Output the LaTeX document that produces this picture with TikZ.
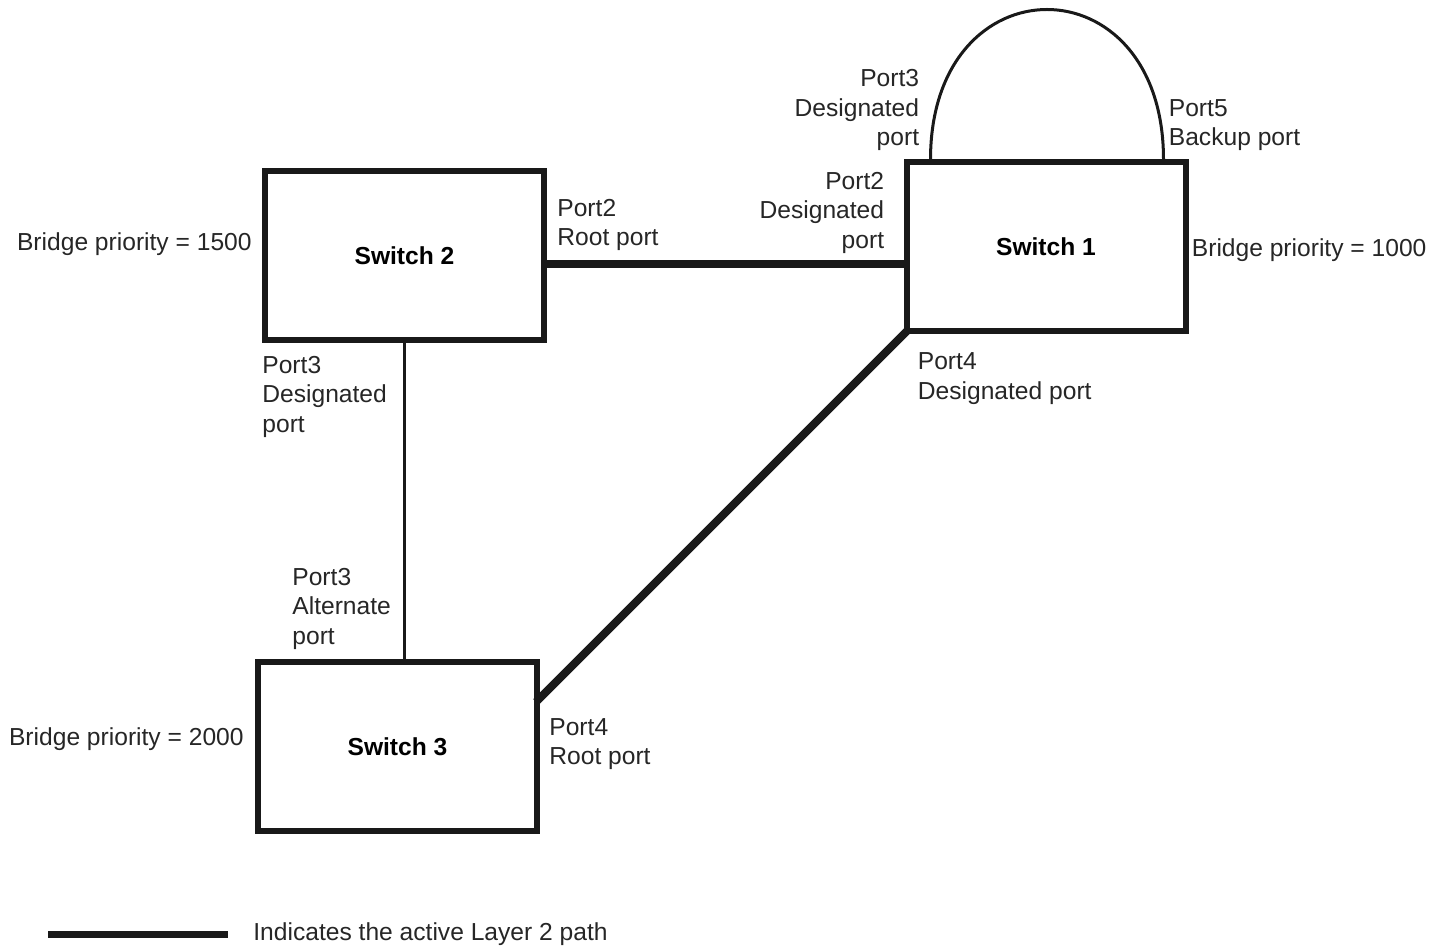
\documentclass[tikz,border=0pt]{standalone}
\usepackage{fontspec}
\setmainfont{Liberation Sans}
\usetikzlibrary{positioning}
\tikzset{
  sw/.style={rectangle, draw=black!90, line width=3pt, fill=white, minimum width=139.5pt,
             minimum height=84.5pt, font=\fontsize{12.3}{14.75}\selectfont\bfseries},
  lbl/.style={inner sep=0pt, align=left, font=\fontsize{12.3}{14.75}\selectfont, text=black!85},
  lblr/.style={lbl, align=right},
  act/.style={line width=4pt, draw=black!90},
  lnk/.style={line width=1.5pt, draw=black!90},
}
\begin{document}
\begin{tikzpicture}[x=0.5pt, y=0.5pt]
\useasboundingbox (0,0) rectangle (1446,948);
\node[sw] (s2) at (404.5,692) {Switch 2};
\node[sw] (s1) at (1046,701) {Switch 1};
\node[sw] (s3) at (397.5,201.5) {Switch 3};
\coordinate (p3) at ([shift={(27,0)}]s1.north west);
\coordinate (p5) at ([shift={(-25,0)}]s1.north east);
\coordinate (s1p4pt) at ([shift={(5,5)}]s1.south west);
\coordinate (s3p4pt) at ([shift={(-4,-43)}]s3.north east);
\draw[act] (s2.east |- 0,684) -- (s1.west |- 0,684);
\draw[act] (s1p4pt) -- (s3p4pt);
\draw[lnk] (s2.south) -- (s2.south |- s3.north);
\draw[lnk] (p3) .. controls +(0,200) and +(0,200) .. (p5);
\node[lbl, anchor=east] (bp2) at ([shift={(-10,12)}]s2.west) {Bridge priority = 1500};
\node[lbl, anchor=west] (bp1) at ([shift={(3,-3)}]s1.east) {Bridge priority = 1000};
\node[lbl, anchor=east] (bp3) at ([shift={(-11,7.5)}]s3.west) {Bridge priority = 2000};
\node[lbl, anchor=north west] (s2p2) at ([shift={(10,-30)}]s2.north east) {Port2\\Root port};
\node[lblr, anchor=north east] (s1p2) at ([shift={(-19,-12)}]s1.north west) {Port2\\Designated\\port};
\node[lblr, anchor=south east] (s1p3) at ([shift={(-11,8)}]p3) {Port3\\Designated\\port};
\node[lbl, anchor=south west] (s1p5) at ([shift={(5,8)}]p5) {Port5\\Backup port};
\node[lbl, anchor=north west] (s1p4) at ([shift={(14,-18)}]s1.south west) {Port4\\Designated port};
\node[lbl, anchor=north west] (s2p3) at ([shift={(0,-12)}]s2.south west) {Port3\\Designated\\port};
\node[lbl, anchor=south west] (s3p3) at ([shift={(37,9)}]s3.north west) {Port3\\Alternate\\port};
\node[lbl, anchor=north west] (s3p4) at ([shift={(9,28.5)}]s3.east) {Port4\\Root port};
\coordinate (lgA) at (48,14);
\coordinate (lgB) at (228,14);
\draw[act, line width=3.5pt] (lgA) -- (lgB);
\node[lbl, anchor=west] (lgtxt) at (253,14) {Indicates the active Layer 2 path};
\end{tikzpicture}
\end{document}
